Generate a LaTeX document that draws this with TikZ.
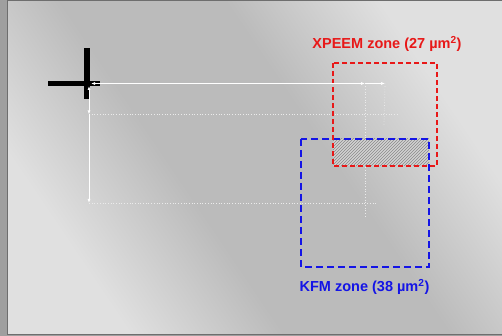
\documentclass[tikz,border=0pt]{standalone}
\usepackage{fontspec}
\setmainfont{Liberation Sans}
\usetikzlibrary{positioning,arrows.meta,patterns}
\definecolor{zonered}{HTML}{E81818}
\definecolor{zoneblue}{HTML}{1414E6}
\definecolor{framegray}{HTML}{6E6E6E}
\definecolor{bglight}{HTML}{E0E0E0}
\definecolor{bgdark}{HTML}{BBBBBB}
\definecolor{hatchgray}{HTML}{8A8A8A}
\pgfdeclareverticalshading{bgdiag}{100bp}{color(0bp)=(bglight); color(27bp)=(bglight);
  color(42bp)=(bgdark); color(58bp)=(bgdark); color(73bp)=(bglight); color(100bp)=(bglight)}

\tikzset{
  scanarrow/.style={draw=white,line width=0.9pt,-{Latex[length=4pt,width=3pt]}},
  scanboth/.style={scanarrow,{Latex[length=4pt,width=3pt]}-{Latex[length=4pt,width=3pt]}},
  guideline/.style={draw=white!92!black,line width=0.7pt,dotted},
  zonelabel/.style={font=\fontsize{14.5}{16}\selectfont\bfseries,inner sep=0pt}
}

\begin{document}
\begin{tikzpicture}[x=1pt,y=-1pt]
    \useasboundingbox (0,0) rectangle (502,336);
    % --- fondo ---
    \fill[gray!75] (0,0) rectangle (502,336);
    \shade[shading=bgdiag,shading angle=-56] (8,1) rectangle (502,334.5);
    \draw[framegray,line width=1pt] (502,0.5) -- (7.5,0.5) -- (7.5,334.5) -- (502,334.5);
    % --- marque de reference ---
    \fill[black] (84,48) rectangle (90,99);
    \fill[black] (48,81) rectangle (100,86.5);
    % --- coordonnees du balayage ---
    \coordinate (h0) at (91,83.5);
    \coordinate (h1) at (365,83.5);
    \coordinate (h2) at (385,83.5);
    \coordinate (v0) at (89,86);
    \coordinate (v1) at (89,114.5);
    \coordinate (v2) at (89,203);
    % --- lignes de repere ---
    \draw[guideline] (v1) -- (398,114.5);
    \draw[guideline] (v2) -- (377,203);
    \draw[guideline] (h1) -- (365,216);
    \draw[guideline] (h2) -- (384,125);
    % --- zones ---
    \fill[gray!35] (333,139) rectangle (429,166);
    \fill[pattern=north east lines,pattern color=hatchgray] (333,139) rectangle (429,166);
    \draw[zoneblue,line width=2.2pt,dash pattern=on 7pt off 4pt] (301,139) rectangle (429,267);
    \draw[zonered,line width=1.6pt,dash pattern=on 5pt off 3pt] (333,63) rectangle (437,166);
    % --- fleches ---
    \draw[scanboth] (h0) -- (h1);
    \draw[scanarrow,line width=0.6pt] (h1) -- (h2);
    \draw[scanboth] (v0) -- (v1);
    \draw[scanarrow] (v1) -- (v2);
    % --- etiquettes ---
    \node[zonelabel,zonered] (xpeem) at (387,44) {XPEEM zone (27 µm\textsuperscript{2})};
    \node[zonelabel,zoneblue] (kfm) at (364.5,287) {KFM zone (38 µm\textsuperscript{2})};
\end{tikzpicture}
\end{document}
